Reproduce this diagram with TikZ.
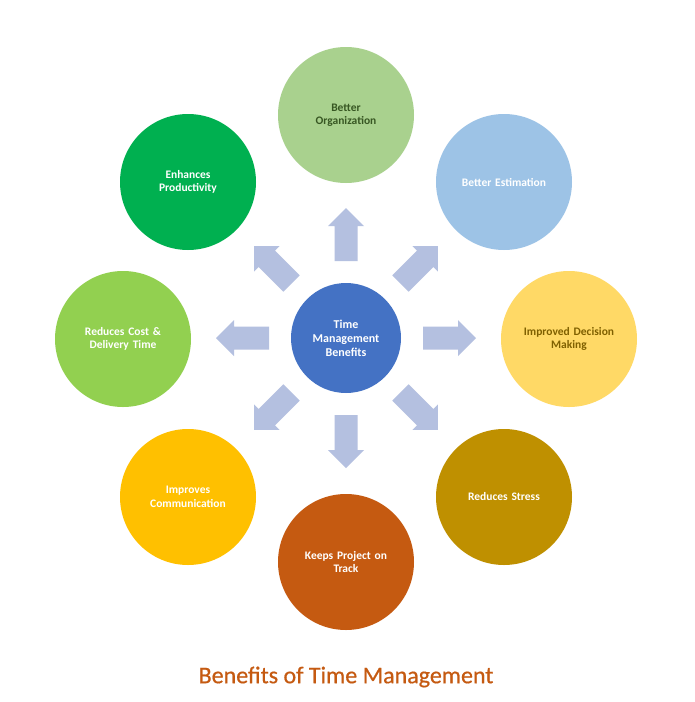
\documentclass[tikz,border=0pt]{standalone}
\usepackage{fontspec}
\setmainfont{Carlito}
\newfontfamily\titlefont[FakeBold=0.6]{Carlito}
\definecolor{cCenter}{HTML}{4472C4}
\definecolor{cOrg}{HTML}{A9D18E}
\definecolor{cEst}{HTML}{9DC3E6}
\definecolor{cDec}{HTML}{FFD966}
\definecolor{cStr}{HTML}{BF9000}
\definecolor{cTrk}{HTML}{C55A11}
\definecolor{cCom}{HTML}{FFC000}
\definecolor{cCost}{HTML}{92D050}
\definecolor{cProd}{HTML}{00B050}
\definecolor{cArrow}{HTML}{B4C0E0}
\definecolor{tGreen}{HTML}{385723}
\definecolor{tGold}{HTML}{7F6000}
\begin{document}
\begin{tikzpicture}[x=1pt,y=-1pt,
  bubble/.style={circle,draw=none,minimum size=136pt,inner sep=0pt,align=center,
    font=\fontsize{11.5}{13.5}\selectfont\bfseries,text=white,text width=110pt},
  hub/.style={circle,draw=none,fill=cCenter,minimum size=110pt,inner sep=0pt,align=center,
    font=\fontsize{12}{14}\selectfont\bfseries,text=white,text width=90pt},
  blockarrow/.style={fill=cArrow,draw=none}]
\useasboundingbox (0,0) rectangle (695,702);
\fill[white] (0,0) rectangle (695,702);
\node[hub] (c) at (346,338) {Time\\Management\\Benefits};
\node[bubble,fill=cOrg,text=tGreen] (org) at (346,115) {Better\\Organization};
\node[bubble,fill=cEst] (est) at (504,182) {Better Estimation};
\node[bubble,fill=cDec,text=tGold] (dec) at (569,339) {Improved Decision\\Making};
\node[bubble,fill=cStr] (str) at (504,497) {Reduces Stress};
\node[bubble,fill=cTrk] (trk) at (346,562) {Keeps Project on\\Track};
\node[bubble,fill=cCom] (com) at (188,497) {Improves\\Communication};
\node[bubble,fill=cCost] (cost) at (123,339) {Reduces Cost \&\\Delivery Time};
\node[bubble,fill=cProd] (prod) at (188,182) {Enhances\\Productivity};
\foreach \a in {0,45,...,315}{
  \fill[blockarrow,shift={(c.center)},rotate=\a]
    (77,-11.5) -- (112,-11.5) -- (112,-18) -- (130,0) -- (112,18) -- (112,11.5) -- (77,11.5) -- cycle;
}
\node[font=\titlefont\fontsize{24}{28}\selectfont,text=cTrk] (title) at (346,677) {Benefits of Time Management};
\end{tikzpicture}
\end{document}
